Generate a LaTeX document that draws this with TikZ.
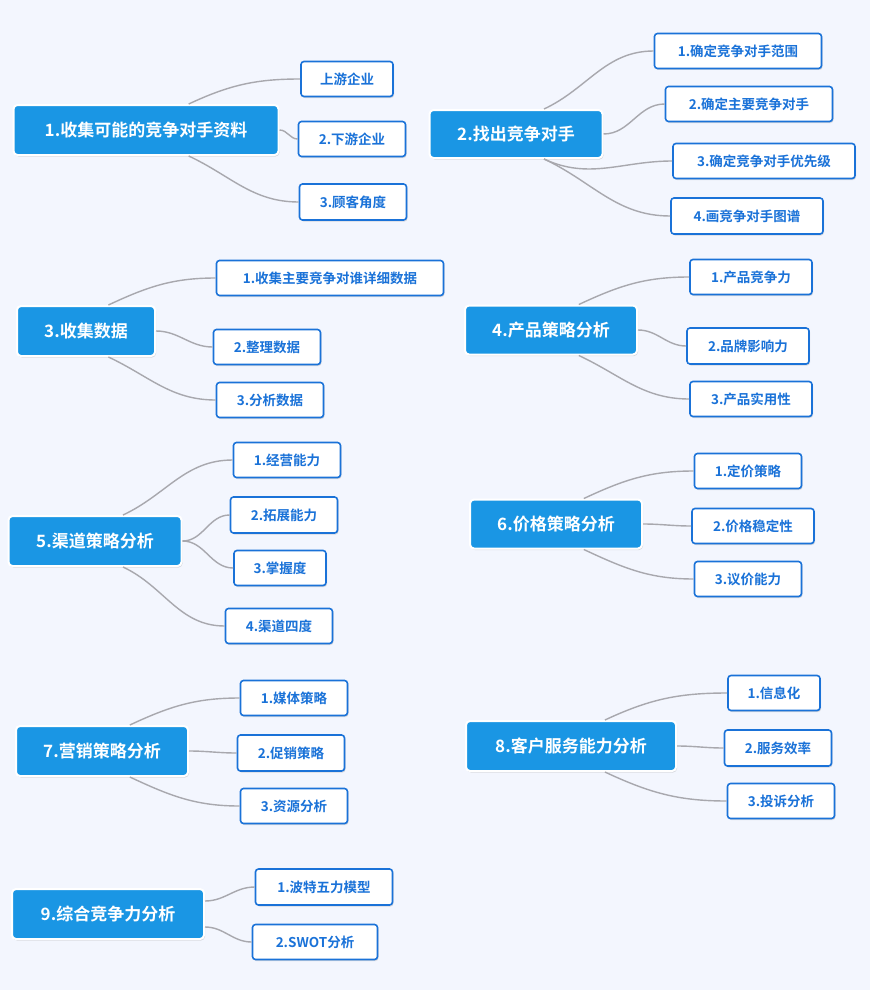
\documentclass[tikz,border=0pt]{standalone}
\usepackage{fontspec}
\setmainfont{Noto Sans CJK SC}[BoldFont={* Bold}]
\usetikzlibrary{shadows,calc}
\definecolor{bg}{HTML}{F3F6FE}
\definecolor{mainblue}{HTML}{1A96E4}
\definecolor{childblue}{HTML}{1A72D8}
\definecolor{conn}{HTML}{A8A8AE}
\tikzset{
 mainbox/.style={draw=white,line width=2pt,fill=mainblue,rounded corners=4pt,text=white,font=\fontsize{17}{20}\selectfont\bfseries,inner sep=0pt,drop shadow={opacity=0.25,shadow xshift=1pt,shadow yshift=-1.5pt}},
 childbox/.style={draw=childblue,line width=1.6pt,fill=white,rounded corners=3pt,text=childblue,font=\fontsize{13.5}{16}\selectfont\bfseries,inner sep=0pt,drop shadow={opacity=0.25,shadow xshift=1pt,shadow yshift=-1.5pt}},
 link/.style={draw=conn,line width=1.4pt}
}
\newcommand{\mn}[6]{\node[mainbox,minimum width=#4pt,minimum height=#5pt] (#1) at (#2,#3) {#6};}
\newcommand{\cn}[6]{\node[childbox,minimum width=#4pt,minimum height=#5pt] (#1) at (#2,#3) {#6};}
\newcommand{\up}[2]{\draw[link] ($(#1.north)!0.32!(#1.north east)$) to[out=25,in=180] (#2.west);}
\newcommand{\md}[2]{\draw[link] (#1.east) to[out=0,in=180] (#2.west);}
\newcommand{\dn}[2]{\draw[link] ($(#1.south)!0.32!(#1.south east)$) to[out=-25,in=180] (#2.west);}
\begin{document}
\begin{tikzpicture}[x=1pt,y=-1pt]
\fill[bg] (0,0) rectangle (870,990);
\useasboundingbox (0,0) rectangle (870,990);
% 1
\mn{m1}{146}{130}{265}{50}{1.收集可能的竞争对手资料}
\cn{a1}{347}{79}{92}{35}{上游企业}
\cn{a2}{352}{139}{107}{35}{2.下游企业}
\cn{a3}{353}{202}{107}{36}{3.顾客角度}
\up{m1}{a1}\md{m1}{a2}\dn{m1}{a3}
% 2
\mn{m2}{516}{134}{173}{48}{2.找出竞争对手}
\cn{b1}{738}{51}{167}{35}{1.确定竞争对手范围}
\cn{b2}{749}{104}{167}{35}{2.确定主要竞争对手}
\cn{b3}{764}{161}{182}{35}{3.确定竞争对手优先级}
\cn{b4}{747}{216}{152}{36}{4.画竞争对手图谱}
\up{m2}{b1}\md{m2}{b2}\dn{m2}{b3}\dn{m2}{b4}
% 3
\mn{m3}{86}{331}{138}{50}{3.收集数据}
\cn{c1}{330}{278}{227}{35}{1.收集主要竞争对谁详细数据}
\cn{c2}{267}{347}{107}{35}{2.整理数据}
\cn{c3}{270}{400}{107}{35}{3.分析数据}
\up{m3}{c1}\md{m3}{c2}\dn{m3}{c3}
% 4
\mn{m4}{551}{330}{172}{49}{4.产品策略分析}
\cn{d1}{751}{277}{122}{35}{1.产品竞争力}
\cn{d2}{748}{346}{122}{36}{2.品牌影响力}
\cn{d3}{751}{399}{122}{35}{3.产品实用性}
\up{m4}{d1}\md{m4}{d2}\dn{m4}{d3}
% 5
\mn{m5}{95}{541}{173}{50}{5.渠道策略分析}
\cn{e1}{287}{460}{107}{35}{1.经营能力}
\cn{e2}{284}{515}{107}{36}{2.拓展能力}
\cn{e3}{280}{568}{92}{35}{3.掌握度}
\cn{e4}{279}{626}{107}{35}{4.渠道四度}
\up{m5}{e1}\md{m5}{e2}\md{m5}{e3}\dn{m5}{e4}
% 6
\mn{m6}{556}{524}{172}{49}{6.价格策略分析}
\cn{f1}{748}{471}{107}{35}{1.定价策略}
\cn{f2}{753}{526}{122}{35}{2.价格稳定性}
\cn{f3}{748}{579}{107}{35}{3.议价能力}
\up{m6}{f1}\md{m6}{f2}\dn{m6}{f3}
% 7
\mn{m7}{102}{751}{172}{50}{7.营销策略分析}
\cn{g1}{294}{698}{107}{35}{1.媒体策略}
\cn{g2}{291}{753}{107}{36}{2.促销策略}
\cn{g3}{294}{806}{107}{35}{3.资源分析}
\up{m7}{g1}\md{m7}{g2}\dn{m7}{g3}
% 8
\mn{m8}{571}{746}{210}{50}{8.客户服务能力分析}
\cn{h1}{774}{693}{92}{35}{1.信息化}
\cn{h2}{778}{748}{107}{36}{2.服务效率}
\cn{h3}{781}{801}{107}{35}{3.投诉分析}
\up{m8}{h1}\md{m8}{h2}\dn{m8}{h3}
% 9
\mn{m9}{108}{914}{192}{50}{9.综合竞争力分析}
\cn{i1}{324}{887}{137}{36}{1.波特五力模型}
\cn{i2}{315}{942}{125}{35}{2.SWOT分析}
\draw[link] ($(m9.north east)!0.5!(m9.east)$) to[out=0,in=180] (i1.west);
\draw[link] ($(m9.south east)!0.5!(m9.east)$) to[out=0,in=180] (i2.west);
\end{tikzpicture}
\end{document}
